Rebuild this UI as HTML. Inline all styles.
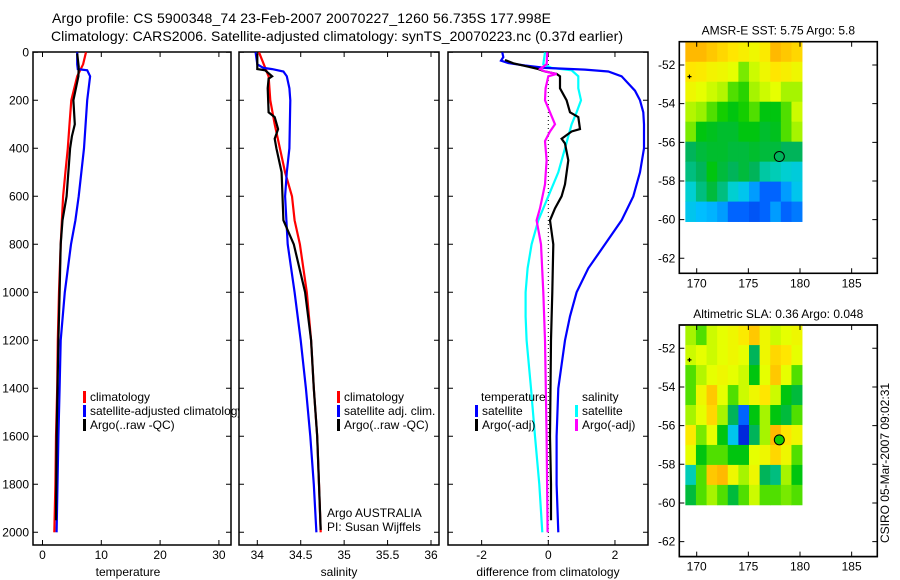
<!DOCTYPE html>
<html><head><meta charset="utf-8"><style>
body{margin:0;background:#fff}
svg{display:block;font-family:"Liberation Sans",sans-serif}
</style></head><body>
<svg id="fig" width="900" height="580" viewBox="0 0 900 580">
<text x="52" y="23" font-size="14" textLength="499">Argo profile: CS 5900348_74 23-Feb-2007 20070227_1260 56.735S 177.998E</text>
<text x="51" y="41" font-size="14" textLength="572">Climatology: CARS2006. Satellite-adjusted climatology: synTS_20070223.nc (0.37d earlier)</text>
<g id="g1"></g>
<g id="g2"></g>
<g id="g3"></g>
<g id="g4"></g>
<g id="g5"></g>
<text transform="translate(889,463) rotate(-90)" font-size="12" text-anchor="middle">CSIRO 05-Mar-2007 09:02:31</text>
</svg>
<script>
// ---- profile data (depth in dbar) ----
const tClimD=[0,50,100,200,300,400,500,600,700,800,1000,1200,1400,1600,1800,2000];
const tClimV=[7.4,6.9,5.9,4.9,4.6,4.3,3.9,3.5,3.3,3.1,2.8,2.6,2.5,2.3,2.2,2.0];
const tSatD=[0,50,70,75,100,200,400,600,700,800,1000,1200,1400,1600,2000];
const tSatV=[5.9,5.9,6.0,7.6,8.1,7.6,7.05,6.15,5.6,4.85,3.8,3.1,2.9,2.7,2.4];
const tArgoD=[5,60,100,200,300,350,400,600,700,800,1000,1200,1600,1950];
const tArgoV=[5.9,6.15,6.1,5.25,5.5,5.0,4.7,4.1,3.4,3.1,2.9,2.7,2.4,2.3];
const sClimD=[0,100,200,300,400,500,600,700,800,1000,1200,1400,1600,1800,2000];
const sClimV=[34.02,34.13,34.15,34.2,34.26,34.32,34.4,34.43,34.49,34.57,34.62,34.65,34.69,34.71,34.73];
const sSatD=[0,50,65,70,80,100,150,200,400,500,600,800,1000,1200,1400,1600,1800,2000];
const sSatV=[33.98,34.0,34.07,34.17,34.3,34.34,34.37,34.38,34.37,34.34,34.32,34.35,34.43,34.5,34.56,34.61,34.65,34.68];
const sArgoD=[5,60,70,75,100,110,150,250,270,320,360,400,500,600,700,800,1000,1200,1400,1600,1800,1990];
const sArgoV=[34.0,34.0,34.0,34.09,34.17,34.13,34.12,34.13,34.2,34.24,34.2,34.22,34.28,34.29,34.3,34.42,34.55,34.62,34.65,34.69,34.71,34.73];
const dTSatD=[0,20,35,45,55,65,72,80,100,130,160,200,250,300,400,500,600,700,800,900,1000,1100,1200,1400,1600,1800,2000];
const dTSatV=[-1.38,-1.35,-1.42,-1.2,-0.7,-0.1,1.1,1.8,2.2,2.4,2.6,2.75,2.85,2.87,2.87,2.75,2.55,2.2,1.7,1.2,0.85,0.65,0.5,0.3,0.25,0.25,0.3];
const dTArgoD=[32,46,60,70,80,90,100,150,200,250,270,320,330,360,380,450,550,600,650,700,800,1000,1200,1600,1800,1950];
const dTArgoV=[-1.3,-1.05,-0.6,-0.3,-0.1,0.25,0.35,0.35,0.55,0.65,0.9,0.95,0.7,0.4,0.5,0.6,0.5,0.4,0.2,0.05,0.15,0.12,0.08,0.05,0.08,0.08];
const dSSatD=[0,50,65,75,100,150,200,250,300,400,500,600,700,800,900,1000,1100,1200,1400,1600,1800,2000];
const dSSatV=[-0.1,-0.15,0.1,0.7,0.9,0.9,0.98,0.85,0.7,0.5,0.3,0,-0.3,-0.5,-0.62,-0.68,-0.68,-0.65,-0.52,-0.4,-0.27,-0.18];
const dSArgoD=[0,50,70,80,90,100,150,200,250,300,330,370,450,550,650,700,800,1000,1200,1600,2000];
const dSArgoV=[-0.03,-0.05,-0.25,-0.1,0.25,0,-0.08,-0.1,0.05,0.2,0.05,-0.1,-0.05,-0.1,-0.25,-0.35,-0.22,-0.15,-0.1,-0.05,-0.02];
const depthTicks=[0,200,400,600,800,1000,1200,1400,1600,1800,2000];
const tTicks=[0,10,20,30];
const sTicks=[34,34.5,35,35.5,36];
const sTickLabels=["34","34.5","35","35.5","36"];
const dTicks=[-2,0,2];
// ---- map data (colormap index 0..1), rows north->south, cols west->east ----
const sstRows=[
[0.72,0.72,0.7,0.68,0.66,0.64,0.62,0.65,0.72,0.7,0.68],
[0.66,0.65,0.63,0.62,0.6,0.52,0.58,0.62,0.66,0.64,0.62],
[0.62,0.6,0.58,0.56,0.5,0.48,0.55,0.58,0.6,0.55,0.55],
[0.56,0.54,0.5,0.47,0.45,0.47,0.5,0.45,0.45,0.5,0.58],
[0.52,0.45,0.44,0.43,0.43,0.45,0.45,0.43,0.44,0.5,0.55],
[0.4,0.42,0.43,0.43,0.42,0.42,0.43,0.42,0.42,0.4,0.4],
[0.38,0.4,0.45,0.42,0.4,0.42,0.4,0.36,0.35,0.33,0.32],
[0.33,0.38,0.42,0.38,0.33,0.3,0.25,0.2,0.2,0.25,0.3],
[0.3,0.28,0.27,0.25,0.2,0.2,0.18,0.2,0.25,0.2,0.22]];
const slaRows=[
[0.55,0.5,0.58,0.6,0.62,0.65,0.7,0.62,0.58,0.6,0.62],
[0.58,0.6,0.58,0.6,0.62,0.6,0.4,0.62,0.68,0.66,0.6],
[0.5,0.56,0.6,0.62,0.6,0.58,0.45,0.6,0.7,0.6,0.5],
[0.5,0.62,0.7,0.6,0.5,0.58,0.62,0.66,0.58,0.45,0.42],
[0.55,0.6,0.68,0.55,0.4,0.2,0.45,0.55,0.45,0.42,0.5],
[0.65,0.52,0.6,0.45,0.3,0.12,0.4,0.55,0.72,0.66,0.62],
[0.6,0.45,0.5,0.5,0.45,0.45,0.6,0.62,0.68,0.62,0.5],
[0.35,0.5,0.7,0.72,0.62,0.55,0.62,0.4,0.38,0.55,0.45],
[0.42,0.5,0.55,0.5,0.42,0.5,0.58,0.5,0.5,0.52,0.5]];
const lonTicks=[170,175,180,185];
const latTicks=[52,54,56,58,60,62];
const argoLon=177.998, argoLat=56.735;
const sstArgoVal=0.4, slaArgoVal=0.47;

const NS="http://www.w3.org/2000/svg";
function mk(parent,tag,attrs){const e=document.createElementNS(NS,tag);for(const k in attrs)e.setAttribute(k,attrs[k]);parent.appendChild(e);return e;}
const yD=d=>52.3+0.24*d;
function frame(g,x0,x1,y0,y1){
  const r=mk(g,'rect',{x:x0,y:y0,width:x1-x0,height:y1-y0,fill:'#fff',stroke:'#000','stroke-width':1.5});
  
  
}
function yTicks(g,x0,x1,labels){
  depthTicks.forEach(d=>{
    const y=yD(d);
    const t=mk(g,'path',{d:`M${x0},${y}h5M${x1},${y}h-5`,stroke:'#000','stroke-width':1});
    
    
    if(labels){const l=mk(g,'text',{x:x0-4,y:y+4,'font-size':12,'text-anchor':'end'});l.textContent=d;
      
      }
  });
}
function xTicks(g,vals,labs,fx,y0,y1){
  vals.forEach((v,i)=>{const x=fx(v);
    const t=mk(g,'path',{d:`M${x},${y1}v-5M${x},${y0}v5`,stroke:'#000','stroke-width':1});
    
    
    const l=mk(g,'text',{x:x,y:y1+14,'font-size':12,'text-anchor':'middle'});l.textContent=labs[i];
    
    
  });
}
function line(g,D,V,fx,col,name,w){
  const pts=D.map((d,i)=>fx(V[i]).toFixed(1)+','+yD(d).toFixed(1)).join(' ');
  const p=mk(g,'polyline',{points:pts,fill:'none',stroke:col,'stroke-width':w||2.2,'stroke-linejoin':'miter'});
  
  
}
function legend(g,x,y,col,txt){
  if(col){const b=mk(g,'rect',{x:x-7,y:y-10,width:3,height:12,fill:col});
    
    }
  const t=mk(g,'text',{x:x,y:y,'font-size':12});t.textContent=txt;
  
  
}
function axTitle(g,x,txt){const t=mk(g,'text',{x:x,y:576,'font-size':12,'text-anchor':'middle'});t.textContent=txt;
  
  }

// Panel 1: temperature
const g1=document.getElementById('g1');
const fT=t=>42.5+5.88*t;
frame(g1,33,231,52,545);yTicks(g1,33,231,true);xTicks(g1,tTicks,tTicks,fT,52,545);
line(g1,tClimD,tClimV,fT,'#f00','temp-climatology-line');
line(g1,tSatD,tSatV,fT,'#00f','temp-satellite-line');
line(g1,tArgoD,tArgoV,fT,'#000','temp-argo-line');
legend(g1,90,401,'#f00','climatology');legend(g1,90,415,'#00f','satellite-adjusted climatology');legend(g1,90,429,'#000','Argo(..raw -QC)');
axTitle(g1,128,'temperature');

// Panel 2: salinity
const g2=document.getElementById('g2');
const fS=s=>257.3+86.85*(s-34);
frame(g2,239,439,52,545);yTicks(g2,239,439,false);xTicks(g2,sTicks,sTickLabels,fS,52,545);
line(g2,sClimD,sClimV,fS,'#f00','sal-climatology-line');
line(g2,sSatD,sSatV,fS,'#00f','sal-satellite-line');
line(g2,sArgoD,sArgoV,fS,'#000','sal-argo-line');
legend(g2,344,401,'#f00','climatology');legend(g2,344,415,'#00f','satellite adj. clim.');legend(g2,344,429,'#000','Argo(..raw -QC)');
legend(g2,327,517,null,'Argo AUSTRALIA');legend(g2,327,531,null,'PI: Susan Wijffels');
axTitle(g2,339,'salinity');

// Panel 3: difference
const g3=document.getElementById('g3');
const fDf=d=>548.3+33.33*d;
frame(g3,448,648,52,545);yTicks(g3,448,648,false);xTicks(g3,dTicks,dTicks,fDf,52,545);
const z=mk(g3,'line',{x1:fDf(0),x2:fDf(0),y1:52,y2:545,stroke:'#000','stroke-width':1,'stroke-dasharray':'1,3'});


line(g3,dSSatD,dSSatV,fDf,'#0ff','sal-satellite-diff-line');
line(g3,dTSatD,dTSatV,fDf,'#00f','temp-satellite-diff-line');
line(g3,dTArgoD,dTArgoV,fDf,'#000','temp-argo-diff-line');
line(g3,dSArgoD,dSArgoV,fDf,'#f0f','sal-argo-diff-line');
legend(g3,481,401,null,'temperature');legend(g3,482,415,'#00f','satellite');legend(g3,482,429,'#000','Argo(-adj)');
legend(g3,582,401,null,'salinity');legend(g3,582,415,'#0ff','satellite');legend(g3,582,429,'#f0f','Argo(-adj)');
axTitle(g3,548,'difference from climatology');

// Maps: custom colormap (dark blue -> blue -> cyan -> green -> yellow -> orange -> red)
const cmapStops=[[0,[0,0,140]],[0.12,[0,40,220]],[0.2,[0,100,255]],[0.28,[0,190,255]],[0.34,[0,210,200]],[0.4,[0,180,90]],[0.46,[0,200,0]],[0.53,[140,240,0]],[0.6,[230,255,0]],[0.66,[255,230,0]],[0.74,[255,170,0]],[0.85,[255,80,0]],[1,[200,0,0]]];
function jet(v){
  v=Math.max(0,Math.min(1,v));
  for(let i=1;i<cmapStops.length;i++){
    const [a,ca]=cmapStops[i-1],[b,cb]=cmapStops[i];
    if(v<=b){const f=(v-a)/(b-a);
      return `rgb(${ca.map((c,k)=>Math.round(c+(cb[k]-c)*f)).join(',')})`;}
  }
  return 'rgb(200,0,0)';
}
function mapPanel(g,rows,top,title,argoVal){
  const L=679.3,R=877.3,lat52=top+23.3,bot=top+231.6;
  const fx=lon=>696.7+10.33*(lon-170);
  const fy=lat=>lat52+19.33*(lat-52);
  frame(g,L,R,top,bot);
  const lon0=168.9,lon1=180.2,la0=50.8,la1=60.1;
  const nr=rows.length,nc=rows[0].length;
  const dl=(lon1-lon0)/nc,da=(la1-la0)/nr;
  rows.forEach((row,i)=>row.forEach((v,j)=>{
    const x=fx(lon0+j*dl),y=fy(la0+i*da);
    const c=mk(g,'rect',{x:x.toFixed(2),y:y.toFixed(2),width:(fx(lon0+(j+1)*dl)-x+0.4).toFixed(2),height:(fy(la0+(i+1)*da)-y+0.4).toFixed(2),fill:jet(v)});
    
    
  }));
  const f2=mk(g,'rect',{x:L,y:top,width:R-L,height:bot-top,fill:'none',stroke:'#000','stroke-width':1.5});
  
  
  lonTicks.forEach(lon=>{const x=fx(lon);
    const t=mk(g,'path',{d:`M${x},${top}v5M${x},${bot}v-5`,stroke:'#000'});
    
    
    const l=mk(g,'text',{x:x,y:bot+14,'font-size':12,'text-anchor':'middle'});l.textContent=lon;
    
    });
  latTicks.forEach(lat=>{const y=fy(lat);
    const t=mk(g,'path',{d:`M${L},${y}h5M${R},${y}h-5`,stroke:'#000'});
    
    
    const l=mk(g,'text',{x:L-4,y:y+4,'font-size':12,'text-anchor':'end'});l.textContent='-'+lat;
    
    });
  const tt=mk(g,'text',{x:(L+R)/2,y:top-7,'font-size':12,'text-anchor':'middle'});tt.textContent=title;
  
  
  const m=mk(g,'circle',{cx:fx(argoLon),cy:fy(argoLat),r:5,fill:jet(argoVal),stroke:'#000','stroke-width':1});
  
  
  const p=mk(g,'path',{d:`M${fx(169.3)-2},${fy(52.6)}h4M${fx(169.3)},${fy(52.6)-2}v4`,stroke:'#000','stroke-width':1.2});
  
  
}
mapPanel(document.getElementById('g4'),sstRows,41.7,'AMSR-E SST: 5.75 Argo: 5.8',sstArgoVal);
mapPanel(document.getElementById('g5'),slaRows,325,'Altimetric SLA: 0.36 Argo: 0.048',slaArgoVal);
</script>
</body></html>
